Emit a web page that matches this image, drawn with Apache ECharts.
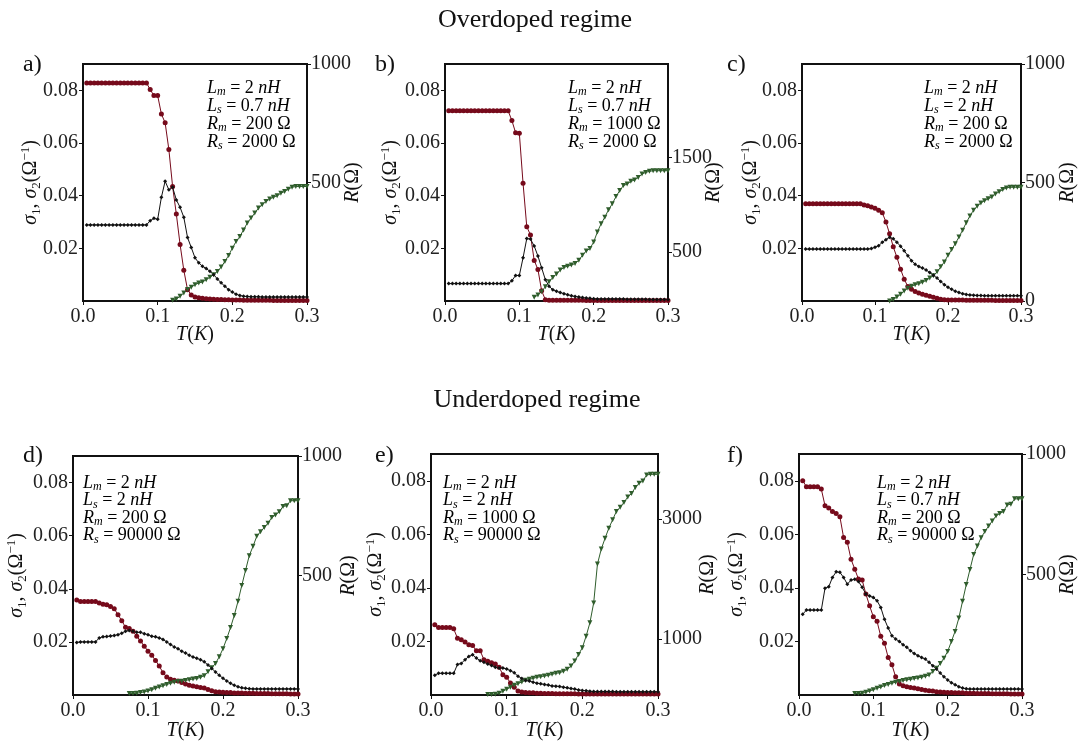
<!DOCTYPE html>
<html>
<head>
<meta charset="utf-8">
<script src="https://cdn.jsdelivr.net/npm/echarts@6.0.0/dist/echarts.min.js"></script>
<style>
html, body { margin: 0; background: #fff; }
#main { width: 1079px; height: 745px; }
</style>
</head>
<body>
<div id="main"></div>
<script>
// temperature grid T(K), shared by all six panels
var T = [0.005,0.01,0.015,0.02,0.025,0.03,0.035,0.04,0.045,0.05,0.055,0.06,0.065,0.07,0.075,0.08,0.085,0.09,0.095,0.1,
         0.105,0.11,0.115,0.12,0.125,0.13,0.135,0.14,0.145,0.15,0.155,0.16,0.165,0.17,0.175,0.18,0.185,0.19,0.195,0.2,
         0.205,0.21,0.215,0.22,0.225,0.23,0.235,0.24,0.245,0.25,0.255,0.26,0.265,0.27,0.275,0.28,0.285,0.29,0.295,0.3];

// a) overdoped, Lm=2nH Ls=0.7nH Rm=200 Rs=2000
var redA = [0.0828,0.0828,0.0828,0.0828,0.0828,0.0828,0.0828,0.0828,0.0828,0.0828,0.0828,0.0828,0.0828,0.0828,0.0828,0.0828,0.0828,
  0.0803,0.078,0.078,0.071,0.0677,0.0575,0.0435,0.033,0.0215,0.0117,0.0043,0.0023,0.0015,0.0012,0.001,0.0009,0.0008,0.0007,0.0006,0.0006,0.0005,0.0005,0.0004,
  0.0004,0.0004,0.0003,0.0003,0.0003,0.0003,0.0003,0.0003,0.0003,0.0003,0.0002,0.0002,0.0002,0.0002,0.0002,0.0002,0.0002,0.0002,0.0002,0.0002];
var blackA = [0.0289,0.0289,0.0289,0.0289,0.0289,0.0289,0.0289,0.0289,0.0289,0.0289,0.0289,0.0289,0.0289,0.0289,0.0289,0.0289,0.0289,
  0.0305,0.0314,0.031,0.0394,0.0455,0.0422,0.0432,0.0384,0.0356,0.0318,0.0241,0.0203,0.0164,0.0145,0.0132,0.0123,0.0113,0.01,0.0084,0.0069,0.0056,0.0043,0.0034,
  0.0026,0.0021,0.0018,0.0017,0.0016,0.0016,0.0016,0.0015,0.0015,0.0015,0.0015,0.0015,0.0015,0.0015,0.0015,0.0015,0.0015,0.0015,0.0015,0.0015];
var greenA = [null,null,null,null,null,null,null,null,null,null,null,null,null,null,null,null,null,null,null,null,null,null,null,
  3,8,20,34,48,58,69,76,80,90,100,111,125,143,167,192,223,251,272,300,329,350,371,392,406,420,430,438,444,455,462,472,480,483,483,483,483];

// b) overdoped, Rm=1000
var redB = [0.0722,0.0722,0.0722,0.0722,0.0722,0.0722,0.0722,0.0722,0.0722,0.0722,0.0722,0.0722,0.0722,0.0722,0.0722,0.0722,0.0722,
  0.0685,0.0639,0.0637,0.0447,0.0282,0.0251,0.0154,0.012,0.0039,0.0005,
  0.0003,0.0003,0.0003,0.0003,0.0003,0.0003,0.0003,0.0003,0.0003,0.0003,0.0002,0.0002,0.0002,0.0002,0.0002,0.0002,0.0002,0.0002,0.0002,0.0002,
  0.0002,0.0002,0.0002,0.0002,0.0002,0.0002,0.0002,0.0002,0.0002,0.0002,0.0002,0.0002,0.0002];
var blackB = [0.0066,0.0066,0.0066,0.0066,0.0066,0.0066,0.0066,0.0066,0.0066,0.0066,0.0066,0.0066,0.0066,0.0066,0.0066,0.0066,0.0066,
  0.0077,0.0097,0.0097,0.0164,0.0237,0.0235,0.0209,0.0171,0.0126,0.0081,0.0056,0.0043,0.0037,0.0032,0.0028,0.0024,0.002,0.0017,0.0015,0.0013,0.0011,0.001,0.0009,
  0.0008,0.0008,0.0008,0.0008,0.0008,0.0008,0.0008,0.0008,0.0007,0.0007,0.0007,0.0007,0.0007,0.0007,0.0006,0.0006,0.0006,0.0006,0.0006,0.0006];
var greenB = [null,null,null,null,null,null,null,null,null,null,null,null,null,null,null,null,null,null,null,null,null,null,null,
  19,44,79,132,184,230,265,307,335,349,360,377,412,465,510,535,605,711,798,868,946,1009,1086,1149,1202,1219,1247,1261,1289,1325,1342,1353,1360,1360,1360,1360,1360];

// c) overdoped, Ls=2nH
var redC = [0.0369,0.0369,0.0369,0.0369,0.0369,0.0369,0.0369,0.0369,0.0369,0.0369,0.0369,0.0369,0.0369,0.0369,0.0369,0.0369,
  0.0365,0.0362,0.0357,0.0352,0.0345,0.0335,0.03,0.0255,0.0206,0.0166,0.0121,0.0083,0.0055,0.0045,0.0036,0.003,0.0026,0.0022,0.0018,0.0014,0.001,0.0007,0.0005,0.0004,
  0.0004,0.0004,0.0004,0.0004,0.0003,0.0003,0.0003,0.0003,0.0003,0.0003,0.0003,0.0003,0.0002,0.0002,0.0002,0.0002,0.0002,0.0002,0.0002,0.0002];
var blackC = [0.0197,0.0197,0.0197,0.0197,0.0197,0.0197,0.0197,0.0197,0.0197,0.0197,0.0197,0.0197,0.0197,0.0197,0.0197,0.0197,0.0197,0.0197,
  0.0199,0.0204,0.021,0.0223,0.0233,0.0242,0.0236,0.0223,0.0208,0.0191,0.0172,0.0153,0.014,0.0131,0.0125,0.0118,0.0108,0.0098,0.0087,0.0074,0.0062,0.0052,
  0.0045,0.0037,0.0032,0.0028,0.0025,0.0023,0.0022,0.0021,0.0021,0.002,0.002,0.002,0.002,0.002,0.002,0.002,0.002,0.002,0.002,0.002];
var greenC = [null,null,null,null,null,null,null,null,null,null,null,null,null,null,null,null,null,null,null,null,null,null,null,
  0,6,17,28,42,54,62,69,73,79,87,97,107,123,144,165,193,217,242,270,299,330,359,383,400,414,423,431,439,451,461,470,477,480,480,480,480];

// d) underdoped, Lm=2 Ls=2 Rm=200 Rs=90000
var redD = [0.0358,0.0352,0.0352,0.0352,0.0352,0.0352,0.0346,0.0342,0.034,0.0333,0.0325,0.0302,0.028,0.0255,0.025,0.024,0.0221,0.0203,0.0184,0.0165,
  0.015,0.013,0.0109,0.0084,0.0068,0.0059,0.0056,0.0053,0.0047,0.0041,0.0037,0.0034,0.0031,0.0028,0.0026,0.0021,0.0016,0.0012,0.0011,0.001,
  0.0009,0.0009,0.0008,0.0008,0.0008,0.0007,0.0007,0.0007,0.0006,0.0006,0.0006,0.0006,0.0005,0.0005,0.0005,0.0005,0.0005,0.0004,0.0004,0.0004];
var blackD = [0.0198,0.02,0.02,0.02,0.02,0.02,0.0215,0.0219,0.022,0.0222,0.0224,0.0227,0.0233,0.024,0.0243,0.024,0.0236,0.0236,0.0231,0.0227,
  0.0221,0.0219,0.0215,0.0209,0.02,0.019,0.0181,0.0174,0.0165,0.0158,0.015,0.0143,0.0138,0.0133,0.0125,0.0113,0.01,0.0087,0.0074,0.0063,
  0.0053,0.0044,0.0037,0.0031,0.0027,0.0025,0.0024,0.0023,0.0023,0.0023,0.0023,0.0023,0.0023,0.0023,0.0023,0.0023,0.0023,0.0023,0.0023,0.0023];
var greenD = [null,null,null,null,null,null,null,null,null,null,null,null,null,null,
  6,6,7,10,13,17,22,28,33,39,44,49,53,56,58,61,64,67,69,74,81,97,114,132,160,194,236,282,333,392,458,521,583,622,664,683,701,719,743,753,767,789,792,813,813,813];

// e) underdoped, Rm=1000
var redE = [0.0262,0.0252,0.0252,0.0252,0.0252,0.0247,0.0212,0.0206,0.0198,0.0188,0.0185,0.0165,0.0165,0.0132,0.0126,0.012,0.0116,0.0104,0.0076,0.0066,
  0.0045,0.0029,0.0015,0.0011,0.0009,0.0008,0.0008,0.0007,0.0007,0.0006,0.0006,0.0006,0.0005,0.0005,0.0005,0.0005,0.0005,0.0005,0.0004,0.0004,
  0.0004,0.0004,0.0004,0.0004,0.0004,0.0004,0.0004,0.0004,0.0004,0.0004,0.0004,0.0004,0.0004,0.0004,0.0004,0.0004,0.0004,0.0004,0.0004,0.0004];
var blackE = [0.0074,0.0081,0.0081,0.0081,0.0081,0.0081,0.0114,0.0118,0.0132,0.0144,0.015,0.0138,0.0128,0.0122,0.0116,0.011,0.0104,0.0101,0.0101,0.0097,
  0.0091,0.0083,0.007,0.0062,0.0054,0.0052,0.0048,0.0044,0.0042,0.0039,0.0037,0.0034,0.0033,0.0032,0.0029,0.0027,0.0024,0.0022,0.0019,0.0017,
  0.0016,0.0014,0.0013,0.0013,0.0013,0.0013,0.0013,0.0013,0.0012,0.0012,0.0012,0.0012,0.0012,0.0012,0.0012,0.0012,0.0012,0.0012,0.0012,0.0012];
var greenE = [null,null,null,null,null,null,null,null,null,null,null,null,null,null,
  67,67,72,89,122,156,189,222,250,278,306,322,339,356,367,378,389,406,422,433,456,489,544,628,739,850,1044,1267,1600,2250,2500,2680,2850,2990,3130,3200,
  3280,3370,3430,3530,3600,3640,3740,3750,3750,3750];

// f) underdoped, Ls=0.7nH
var redF = [0.08,0.0778,0.0778,0.0778,0.0778,0.0769,0.0707,0.0698,0.0685,0.0678,0.0666,0.0588,0.057,0.0507,0.047,0.0433,0.0429,0.0377,0.0333,0.0292,
  0.0275,0.0219,0.0193,0.014,0.0113,0.0068,0.0041,0.0035,0.0031,0.0028,0.0026,0.0023,0.0021,0.0018,0.0016,0.0015,0.0012,0.0011,0.001,0.0009,
  0.0009,0.0008,0.0008,0.0008,0.0007,0.0007,0.0007,0.0006,0.0006,0.0006,0.0006,0.0005,0.0005,0.0005,0.0005,0.0005,0.0004,0.0004,0.0004,0.0004];
var blackF = [0.0302,0.0317,0.0317,0.0317,0.0317,0.0317,0.0399,0.0404,0.0439,0.046,0.0458,0.0439,0.0414,0.0429,0.0432,0.0424,0.0402,0.0377,0.037,0.0364,
  0.0352,0.0327,0.0283,0.025,0.0221,0.0209,0.02,0.0188,0.0178,0.0165,0.0155,0.0147,0.014,0.0134,0.0122,0.0109,0.0097,0.0082,0.0068,0.0056,
  0.0046,0.0038,0.0031,0.0026,0.0023,0.0022,0.0022,0.0022,0.0022,0.0022,0.0022,0.0022,0.0022,0.0022,0.0022,0.0022,0.0022,0.0022,0.0022,0.0022];
var greenF = [null,null,null,null,null,null,null,null,null,null,null,null,null,null,
  6,6,7,11,17,22,28,33,39,44,49,53,56,60,63,65,68,71,74,78,83,97,111,131,153,181,222,264,319,389,458,521,583,618,653,678,701,722,743,753,761,788,792,814,814,814];

// tick labels
var xTicks = [0, 0.1, 0.2, 0.3];
var sigmaTicks = [0.02, 0.04, 0.06, 0.08];
var rTicksA = [500, 1000];
var rTicksB = [500, 1500];
var rTicksC = [0, 500, 1000];
var rTicksD = [500, 1000];
var rTicksE = [1000, 3000];
var rTicksF = [500, 1000];

// circuit parameters [Lm (nH), Ls (nH), Rm (Ohm), Rs (Ohm)]
var paramsA = ['2', '0.7', '200', '2000'];
var paramsB = ['2', '0.7', '1000', '2000'];
var paramsC = ['2', '2', '200', '2000'];
var paramsD = ['2', '2', '200', '90000'];
var paramsE = ['2', '2', '1000', '90000'];
var paramsF = ['2', '0.7', '200', '90000'];

var serif = 'Liberation Serif';
var red = '#760a1b', green = '#2f5d2c', ink = '#111';

// layout of each panel (pixels)
var panels = [
  {lab: 'a)', box: [83, 64, 224, 237], red: redA, black: blackA, green: greenA, rt: rTicksA, rmin: 0, rmax: 1000, p: paramsA, txt: [207, 88], lg: 40, rg: 34},
  {lab: 'b)', box: [445, 64, 223, 237], red: redB, black: blackB, green: greenB, rt: rTicksB, rmin: -20, rmax: 2490, p: paramsB, txt: [568, 88], lg: 42, rg: 34},
  {lab: 'c)', box: [802, 64, 222, 237], red: redC, black: blackC, green: greenC, rt: rTicksC, rmin: 0, rmax: 1000, p: paramsC, txt: [924, 88], lg: 39, rg: 35},
  {lab: 'd)', box: [73, 456, 225, 239], red: redD, black: blackD, green: greenD, rt: rTicksD, rmin: 0, rmax: 1000, p: paramsD, txt: [83, 483], lg: 44, rg: 39},
  {lab: 'e)', box: [431, 454, 227, 241], red: redE, black: blackE, green: greenE, rt: rTicksE, rmin: 60, rmax: 4090, p: paramsE, txt: [443, 483], lg: 43, rg: 38},
  {lab: 'f)', box: [799, 454, 224, 241], red: redF, black: blackF, green: greenF, rt: rTicksF, rmin: 0, rmax: 1000, p: paramsF, txt: [877, 483], lg: 50, rg: 34}
];

var mathRich = {
  i: {fontFamily: serif, fontStyle: 'italic', fontSize: 20, lineHeight: 24, color: ink},
  n: {fontFamily: serif, fontSize: 20, lineHeight: 24, color: ink},
  s: {fontFamily: serif, fontSize: 13, lineHeight: 13, color: ink, verticalAlign: 'bottom'},
  p: {fontFamily: serif, fontSize: 13, lineHeight: 13, color: ink, verticalAlign: 'top'}
};
var noteRich = {
  i: {fontFamily: serif, fontStyle: 'italic', fontSize: 18, lineHeight: 20, color: '#222'},
  n: {fontFamily: serif, fontSize: 18, lineHeight: 20, color: '#222'},
  si: {fontFamily: serif, fontStyle: 'italic', fontSize: 12, lineHeight: 12, color: '#222', verticalAlign: 'bottom'}
};

function pts(ys) {
  var out = [];
  for (var i = 0; i < T.length; i++) {
    if (ys[i] != null) out.push([T[i], ys[i]]);
  }
  return out;
}

var grid = [], xAxis = [], yAxis = [], series = [], graphic = [];

graphic.push({type: 'text', x: 535, y: 20, style: {text: 'Overdoped regime', font: '26px "Liberation Serif"', fill: ink, align: 'center', verticalAlign: 'middle'}});
graphic.push({type: 'text', x: 537, y: 400, style: {text: 'Underdoped regime', font: '26px "Liberation Serif"', fill: ink, align: 'center', verticalAlign: 'middle'}});

panels.forEach(function (pn, k) {
  grid.push({left: pn.box[0], top: pn.box[1], width: pn.box[2], height: pn.box[3],
    show: true, borderColor: ink, borderWidth: 2, backgroundColor: 'transparent'});

  xAxis.push({
    type: 'value', gridIndex: k, min: 0, max: 0.3,
    name: '{i|T}{n|(}{i|K}{n|)}', nameLocation: 'middle', nameGap: k < 3 ? 22 : 24, nameMoveOverlap: false,
    nameTextStyle: {rich: mathRich},
    axisLine: {show: false}, splitLine: {show: false},
    axisTick: {show: true, length: 4, customValues: xTicks, lineStyle: {color: ink}},
    axisLabel: {customValues: xTicks, margin: 6, fontFamily: serif, fontSize: 20, color: '#222',
      formatter: function (v) { return v.toFixed(1); }}
  });

  yAxis.push({
    type: 'value', gridIndex: k, position: 'left', min: 0, max: 0.09,
    name: '{i|σ}{s|1}{n|, }{i|σ}{s|2}{n|(Ω}{p|−1}{n|)}', nameLocation: 'middle', nameGap: pn.lg, nameMoveOverlap: false,
    nameTextStyle: {rich: mathRich},
    axisLine: {show: false}, splitLine: {show: false},
    axisTick: {show: true, length: 4, customValues: sigmaTicks, lineStyle: {color: ink}},
    axisLabel: {customValues: sigmaTicks, margin: 5, fontFamily: serif, fontSize: 20, color: '#222',
      formatter: function (v) { return v.toFixed(2); }}
  });
  yAxis.push({
    type: 'value', gridIndex: k, position: 'right', min: pn.rmin, max: pn.rmax,
    name: '{i|R}{n|(Ω)}', nameLocation: 'middle', nameGap: pn.rg, nameMoveOverlap: false,
    nameTextStyle: {rich: mathRich},
    axisLine: {show: false}, splitLine: {show: false},
    axisTick: {show: true, length: 4, customValues: pn.rt, lineStyle: {color: ink}},
    axisLabel: {customValues: pn.rt, margin: 4, fontFamily: serif, fontSize: 20, color: '#222',
      formatter: function (v) { return String(v); }}
  });

  series.push({type: 'line', xAxisIndex: k, yAxisIndex: 2 * k, data: pts(pn.red), symbol: 'circle', symbolSize: 5,
    lineStyle: {color: red, width: 1}, itemStyle: {color: red}, animation: false});
  series.push({type: 'line', xAxisIndex: k, yAxisIndex: 2 * k + 1, data: pts(pn.green), symbol: 'triangle', symbolRotate: 180, symbolSize: 5,
    lineStyle: {color: green, width: 1}, itemStyle: {color: green}, animation: false});
  series.push({type: 'line', xAxisIndex: k, yAxisIndex: 2 * k, data: pts(pn.black), symbol: 'diamond', symbolSize: 4,
    lineStyle: {color: ink, width: 1}, itemStyle: {color: ink}, animation: false});

  // panel letter
  var lx = k % 3 === 0 ? 23 : (k % 3 === 1 ? 375 : 727);
  graphic.push({type: 'text', x: lx, y: k < 3 ? 65 : 456, style: {text: pn.lab, font: '24px "Liberation Serif"', fill: ink, verticalAlign: 'middle'}});

  // parameter block
  var lines = [
    '{i|L}{si|m}{n| = ' + pn.p[0] + ' }{i|nH}',
    '{i|L}{si|s}{n| = ' + pn.p[1] + ' }{i|nH}',
    '{i|R}{si|m}{n| = ' + pn.p[2] + ' Ω}',
    '{i|R}{si|s}{n| = ' + pn.p[3] + ' Ω}'
  ];
  var step = k < 3 ? 18 : 17.5;
  lines.forEach(function (ln, j) {
    graphic.push({type: 'text', x: pn.txt[0], y: pn.txt[1] + j * step,
      style: {text: ln, rich: noteRich, verticalAlign: 'middle'}});
  });
});

var myChart = echarts.init(document.getElementById('main'));
myChart.setOption({
  animation: false,
  backgroundColor: '#fff',
  grid: grid,
  xAxis: xAxis,
  yAxis: yAxis,
  series: series,
  graphic: graphic
});
</script>
</body>
</html>
